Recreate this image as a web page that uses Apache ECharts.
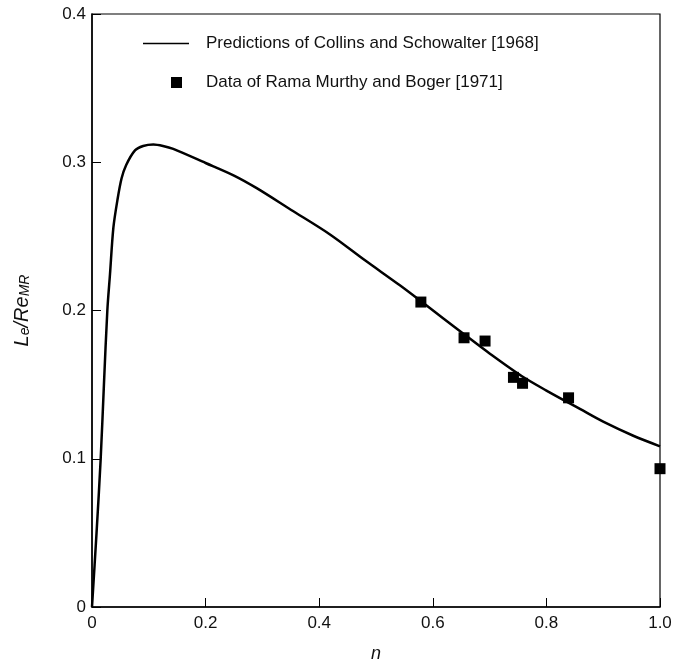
<!DOCTYPE html>
<html>
<head>
<meta charset="utf-8">
<script src="https://cdn.jsdelivr.net/npm/echarts@6/dist/echarts.min.js"></script>
<style>html,body{margin:0;padding:0;background:#fff}#c{width:676px;height:668px}</style>
</head>
<body>
<div id="c"></div>
<script>
const curveN = [0, 0.008, 0.0153, 0.021, 0.027, 0.0317, 0.0376, 0.045, 0.052, 0.06, 0.0757, 0.09, 0.108, 0.125, 0.143, 0.2, 0.25, 0.29, 0.35, 0.419, 0.48, 0.542, 0.58, 0.655, 0.7, 0.757, 0.8, 0.859, 0.9, 0.953, 1.0];
const curveL = [0, 0.05, 0.1, 0.15, 0.2, 0.2246, 0.2557, 0.275, 0.289, 0.298, 0.308, 0.311, 0.312, 0.311, 0.309, 0.2995, 0.291, 0.2825, 0.268, 0.2513, 0.234, 0.217, 0.206, 0.184, 0.171, 0.1556, 0.146, 0.1336, 0.125, 0.1155, 0.1084];
const dataN = [0.579, 0.655, 0.692, 0.742, 0.758, 0.839, 1.0];
const dataL = [0.2057, 0.1816, 0.1794, 0.1549, 0.1509, 0.1411, 0.0933];
const xTicks = ['0', '0.2', '0.4', '0.6', '0.8', '1.0'];
const yTicks = ['0', '0.1', '0.2', '0.3', '0.4'];
const lineName = 'Predictions of Collins and Schowalter [1968]';
const dotName = 'Data of Rama Murthy and Boger [1971]';

const FONT = '"Liberation Sans", Arial, sans-serif';
const chart = echarts.init(document.getElementById('c'), null, {renderer: 'canvas'});
chart.setOption({
  animation: false,
  backgroundColor: '#fff',
  grid: {left: 92, right: 16, top: 14, bottom: 55, show: true, borderColor: '#000', borderWidth: 1.2, backgroundColor: 'transparent'},
  legend: [
    {data: [{name: lineName, icon: 'rect', itemStyle: {color: '#000', opacity: 1}}], left: 138, top: 30, itemWidth: 46, itemHeight: 1.5, itemGap: 0,
     textStyle: {fontFamily: FONT, fontSize: 17, color: '#111', padding: [0, 0, 0, 12]}, selectedMode: false},
    {data: [{name: dotName, icon: 'rect'}], left: 166, top: 69, itemWidth: 11, itemHeight: 11,
     textStyle: {fontFamily: FONT, fontSize: 17, color: '#111', padding: [0, 0, 0, 19]}, selectedMode: false}
  ],
  xAxis: {
    type: 'value', min: 0, max: 1, interval: 0.2,
    name: 'n', nameLocation: 'middle', nameGap: 38,
    nameTextStyle: {fontFamily: FONT, fontSize: 18, fontStyle: 'italic', color: '#111'},
    axisLine: {lineStyle: {color: '#000', width: 1.5}},
    axisTick: {inside: true, length: 9, lineStyle: {color: '#000', width: 1}},
    splitLine: {show: false},
    axisLabel: {fontFamily: FONT, fontSize: 17, color: '#111', margin: 8,
      formatter: v => xTicks[Math.round(v / 0.2)]}
  },
  yAxis: {
    type: 'value', min: 0, max: 0.4, interval: 0.1,
    name: '{i|L}{s|e}{i|/Re}{s|MR}', nameLocation: 'middle', nameGap: 60, nameRotate: 90,
    nameTextStyle: {fontFamily: FONT, color: '#111',
      rich: {
        i: {fontFamily: FONT, fontSize: 20, fontStyle: 'italic', color: '#111', verticalAlign: 'bottom', lineHeight: 28},
        s: {fontFamily: FONT, fontSize: 14, fontStyle: 'italic', color: '#111', verticalAlign: 'bottom', lineHeight: 18}
      }},
    axisLine: {lineStyle: {color: '#000', width: 1.5}},
    axisTick: {inside: true, length: 9, lineStyle: {color: '#000', width: 1}},
    splitLine: {show: false},
    axisLabel: {fontFamily: FONT, fontSize: 17, color: '#111', margin: 6,
      formatter: v => yTicks[Math.round(v / 0.1)]}
  },
  series: [
    {name: lineName, type: 'line', data: curveN.map((n, i) => [n, curveL[i]]),
     symbol: 'none', smooth: 0.3, lineStyle: {color: '#000', width: 2.5}, itemStyle: {color: '#000'}, z: 3},
    {name: dotName, type: 'scatter', data: dataN.map((n, i) => [n, dataL[i]]),
     symbol: 'rect', symbolSize: 11, itemStyle: {color: '#000', opacity: 1}, z: 4}
  ]
});
</script>
</body>
</html>
